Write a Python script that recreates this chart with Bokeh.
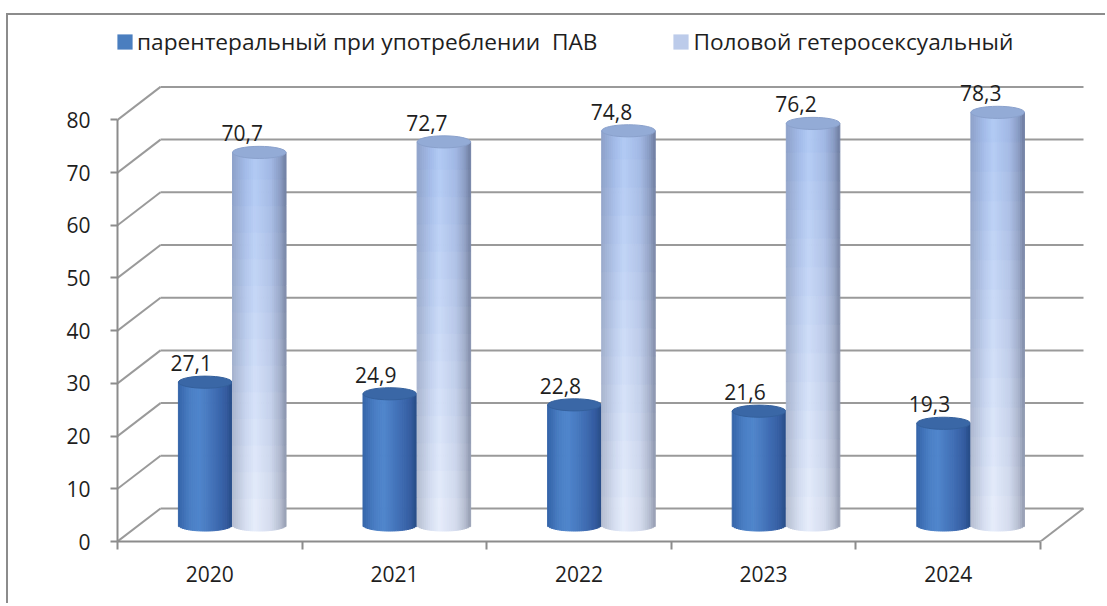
import numpy as np
from bokeh.plotting import figure
from bokeh.models import Range1d, FixedTicker, Legend, LegendItem, ColumnDataSource
from bokeh.core.properties import value
from bokeh.embed import file_html
from bokeh.resources import INLINE

# ---------------- data ----------------
years = ["2020", "2021", "2022", "2023", "2024"]
series_names = ["парентеральный при употреблении  ПАВ", "Половой гетеросексуальный"]
parenteral = [27.1, 24.9, 22.8, 21.6, 19.3]
heterosexual = [70.7, 72.7, 74.8, 76.2, 78.3]
y_ticks = [0, 10, 20, 30, 40, 50, 60, 70, 80]

# ---------------- style / geometry ----------------
FONT = "Open Sans"
TXT = "#1e1e1e"
GRID = "#9a9a9a"
DX = 0.233      # depth shift in category units
DY = 6.26       # depth shift in value units
BASE = DY / 2   # bars stand at half depth
BAR_W = 0.29
EH = 2.3        # ellipse height (value units)
OFF = [0.475, 0.768]
LABEL_DX = [-14, -17]
N_STRIPS = 28
N_SEG = 14

DARK = [(-1, (52, 100, 168)), (-0.55, (74, 126, 196)), (-0.2, (80, 134, 204)),
        (0.4, (64, 110, 180)), (0.8, (52, 92, 160)), (1, (40, 76, 135))]
LIGHT_TOP = [(-1, (140, 160, 200)), (-0.5, (160, 185, 232)), (-0.15, (176, 201, 244)),
             (0.45, (160, 183, 228)), (0.8, (135, 154, 195)), (1, (110, 125, 160))]
LIGHT_BOT = [(-1, (182, 190, 208)), (-0.5, (216, 224, 241)), (-0.15, (232, 238, 251)),
             (0.45, (214, 221, 238)), (0.8, (185, 192, 210)), (1, (150, 158, 178))]


def prof(stops, u):
    us = [s[0] for s in stops]
    return np.array([np.interp(u, us, [s[1][c] for s in stops]) for c in range(3)])


def hexc(rgb):
    r, g, b = [int(round(max(0, min(255, c)))) for c in rgb]
    return "#%02x%02x%02x" % (r, g, b)


W, H = 1099, 590
p = figure(width=W, height=H, output_backend="svg", toolbar_location=None,
           x_range=Range1d(0, 5.298), y_range=Range1d(0, 98.86),
           min_border_left=109, min_border_right=12, min_border_top=5, min_border_bottom=64)
p.outline_line_color = None
p.xgrid.visible = False
p.ygrid.visible = False
p.background_fill_color = "white"
p.border_fill_color = "white"
p.styles = {"border-top": "2px solid #8c8c8c", "border-left": "2px solid #8c8c8c",
            "margin-top": "13px", "margin-left": "6px"}

# ---------------- 3D walls ----------------
n = len(years)
p.segment(x0=[0] * len(y_ticks), y0=y_ticks, x1=[DX] * len(y_ticks),
          y1=[t + DY for t in y_ticks], line_color=GRID, line_width=2)
p.segment(x0=[DX] * len(y_ticks), y0=[t + DY for t in y_ticks],
          x1=[n + DX] * len(y_ticks), y1=[t + DY for t in y_ticks],
          line_color=GRID, line_width=2)
p.segment(x0=[n], y0=[0], x1=[n + DX], y1=[DY], line_color=GRID, line_width=2)

# ---------------- cylinders ----------------
def cylinder_quads(values, off, light):
    L, R, T, B, C = [], [], [], [], []
    r = BAR_W / 2
    edges = np.linspace(-1, 1, N_STRIPS + 1)
    for i, v in enumerate(values):
        cx = i + off
        for k in range(N_STRIPS):
            u0, u1 = edges[k], edges[k + 1]
            um = (u0 + u1) / 2
            curve = (EH / 2) * np.sqrt(max(0.0, 1 - um * um))
            if not light:
                L.append(cx + u0 * r); R.append(cx + u1 * r)
                B.append(BASE - curve); T.append(BASE + v)
                C.append(hexc(prof(DARK, um)))
            else:
                for s in range(N_SEG):
                    y0 = BASE + v * s / N_SEG
                    y1 = BASE + v * (s + 1) / N_SEG
                    t = (s + 0.5) / N_SEG
                    col = prof(LIGHT_BOT, um) * (1 - t) + prof(LIGHT_TOP, um) * t
                    L.append(cx + u0 * r); R.append(cx + u1 * r)
                    B.append(y0 - curve if s == 0 else y0); T.append(y1)
                    C.append(hexc(col))
    return ColumnDataSource(dict(left=L, right=R, top=T, bottom=B, color=C))


src_d = cylinder_quads(parenteral, OFF[0], False)
src_l = cylinder_quads(heterosexual, OFF[1], True)

p.quad(left="left", right="right", top="top", bottom="bottom", source=src_d,
       fill_color="color", line_color="color", line_width=1)
p.ellipse(x=[i + OFF[0] for i in range(n)], y=[v + BASE for v in parenteral],
          width=BAR_W, height=EH, fill_color="#3a67a6", line_color="#34609c", line_width=1)
p.quad(left="left", right="right", top="top", bottom="bottom", source=src_l,
       fill_color="color", line_color="color", line_width=1)
p.ellipse(x=[i + OFF[1] for i in range(n)], y=[v + BASE for v in heterosexual],
          width=BAR_W, height=EH, fill_color="#93abd6", line_color="#8aa1cc", line_width=1)

# ---------------- value labels ----------------
for vals, off, ldx in ((parenteral, OFF[0], LABEL_DX[0]), (heterosexual, OFF[1], LABEL_DX[1])):
    p.text(x=[i + off for i in range(n)], y=[v + BASE for v in vals],
           text=[("%.1f" % v).replace(".", ",") for v in vals],
           text_font=value(FONT), text_font_size="21px", text_color=TXT,
           text_align="center", text_baseline="middle", x_offset=ldx, y_offset=-19)

# ---------------- axes ----------------
ya = p.yaxis[0]
ya.ticker = FixedTicker(ticks=y_ticks)
ya.bounds = (0, 80)
ya.axis_line_color = "#8c8c8c"
ya.axis_line_width = 2
ya.major_tick_line_color = "#8c8c8c"
ya.major_tick_line_width = 2
ya.major_tick_out = 7
ya.major_tick_in = 0
ya.minor_tick_line_color = None
ya.major_label_standoff = 20
ya.major_label_text_font = FONT
ya.major_label_text_font_size = "21px"
ya.major_label_text_color = TXT

xa = p.xaxis[0]
xa.ticker = FixedTicker(ticks=[i + 0.5 for i in range(n)], minor_ticks=list(range(n + 1)))
xa.bounds = (0, n)
xa.major_label_overrides = {i + 0.5: years[i] for i in range(n)}
xa.axis_line_color = "#8c8c8c"
xa.axis_line_width = 2
xa.major_tick_line_color = None
xa.major_tick_out = 0
xa.major_tick_in = 0
xa.minor_tick_line_color = "#8c8c8c"
xa.minor_tick_line_width = 2
xa.minor_tick_out = 8
xa.minor_tick_in = 0
xa.major_label_standoff = 16
xa.major_label_text_font = FONT
xa.major_label_text_font_size = "21px"
xa.major_label_text_color = TXT

# ---------------- legend ----------------
nan = float("nan")
lg1 = p.quad(left=[nan], right=[nan], top=[nan], bottom=[nan],
             fill_color="#4a7ebf", line_color=None)
lg2 = p.quad(left=[nan], right=[nan], top=[nan], bottom=[nan],
             fill_color="#bccbea", line_color=None)
legend = Legend(items=[LegendItem(label=series_names[0], renderers=[lg1]),
                       LegendItem(label=series_names[1], renderers=[lg2])],
                orientation="horizontal", location=(-2, 484),
                glyph_width=19, glyph_height=19, label_standoff=3, spacing=74,
                padding=0, margin=0, border_line_color=None, background_fill_alpha=0,
                label_text_font=FONT, label_text_font_size="22.7px", label_text_color=TXT)
p.add_layout(legend)

open("out.html", "w").write(file_html(p, INLINE))
